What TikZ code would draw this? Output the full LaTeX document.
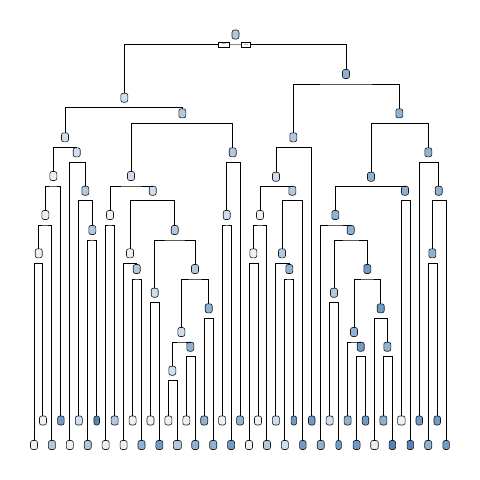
\documentclass[tikz,border=0pt]{standalone}
\usepackage{fontspec}
\usetikzlibrary{calc}
% fill shades, light to dark
\definecolor{s1}{HTML}{EBF1F7}
\definecolor{s2}{HTML}{CFDDEC}
\definecolor{s3}{HTML}{B0C8E0}
\definecolor{s4}{HTML}{8FB1D2}
\definecolor{s5}{HTML}{6F9BC6}
\definecolor{s6}{HTML}{5286B8}
% elbow connector: parent #1, left child #2, right child #3
\newcommand\splitpair[3]{%
  \draw[branch] (#2.north) |- ($(#1.center)+(0,10)$) -| (#3.north);}
\begin{document}
\begin{tikzpicture}[x=1pt,y=-1pt,
  box/.style={draw=black!90, line width=0.6pt, rounded corners=2.2pt,
    minimum width=7pt, minimum height=9pt, inner sep=0pt},
  branch/.style={line width=1pt, black},
  yn/.style={draw=black, line width=0.6pt, fill=white, inner sep=0pt,
    minimum height=5pt, font=\fontsize{2.5}{3}\selectfont}]
\useasboundingbox[fill=white] (0,0) rectangle (480,480);

% ---- internal nodes ----
\node[box, fill=s3] (root) at (235.5,34.5) {};
% left subtree
\node[box, fill=s2] (H) at (124.3,97.7) {};
\node[box, fill=s2] (D) at (65,137.3) {};
\node[box, fill=s1] (C) at (53.3,176) {};
\node[box, fill=s1] (B) at (45.3,215) {};
\node[box, fill=s1] (A) at (38.7,253.3) {};
\node[box, fill=s2] (E) at (76.7,152.3) {};
\node[box, fill=s3] (F) at (85.3,190.7) {};
\node[box, fill=s3] (G) at (92.3,230) {};
\node[box, fill=s3] (I) at (182.3,113.3) {};
\node[box, fill=s2] (J) at (131,176) {};
\node[box, fill=s1] (K) at (110,215) {};
\node[box, fill=s2] (L) at (152.7,190.7) {};
\node[box, fill=s1] (M) at (130,253.3) {};
\node[box, fill=s3] (N) at (136.7,269) {};
\node[box, fill=s3] (O) at (174.7,230) {};
\node[box, fill=s2] (P) at (154.7,292.7) {};
\node[box, fill=s3] (Q) at (195,269) {};
\node[box, fill=s2] (R) at (181.3,332) {};
\node[box, fill=s2] (S) at (172.3,370.7) {};
\node[box, fill=s4] (T) at (190.3,346.7) {};
\node[box, fill=s4] (U) at (208.7,308.3) {};
\node[box, fill=s3] (V) at (232.7,152.3) {};
\node[box, fill=s2] (W) at (226.7,215) {};
% right subtree
\node[box, fill=s4] (X) at (346,74) {};
\node[box, fill=s3] (Y) at (293.3,137.3) {};
\node[box, fill=s2] (Z) at (276,176.7) {};
\node[box, fill=s1] (Za) at (260,215) {};
\node[box, fill=s1] (Zb) at (253.3,253.3) {};
\node[box, fill=s3] (Zc) at (292.3,190.7) {};
\node[box, fill=s3] (Zd) at (282,253.3) {};
\node[box, fill=s4] (Ze) at (289.3,269) {};
\node[box, fill=s4] (AA) at (399.3,113.3) {};
\node[box, fill=s4] (AB) at (371,176.7) {};
\node[box, fill=s4] (AC) at (335.3,215) {};
\node[box, fill=s4] (AD) at (350.7,230) {};
\node[box, fill=s3] (AE) at (334,292.7) {};
\node[box, fill=s5] (AF) at (367.3,269) {};
\node[box, fill=s4] (AG) at (354,332) {};
\node[box, fill=s5] (AH) at (360.7,346.7) {};
\node[box, fill=s5] (AI) at (380.7,308.3) {};
\node[box, fill=s4] (AJ) at (387.3,346.7) {};
\node[box, fill=s4] (AK) at (405,190.7) {};
\node[box, fill=s4] (AL) at (428.3,152.3) {};
\node[box, fill=s4] (AM) at (438.7,190.7) {};
\node[box, fill=s4] (AN) at (432.3,253.3) {};

% ---- leaves: odd ones on the upper row, even ones on the lower row ----
\foreach \i/\c/\w in {0/s1/7,1/s1/7,2/s3/7,3/s5/6.5,4/s1/7,5/s2/7,6/s3/7,7/s6/5.5,
  8/s1/7,9/s3/7,10/s1/7,11/s1/7,12/s4/7,13/s1/7,14/s5/7,15/s1/7,16/s3/8,17/s1/7,
  18/s4/7,19/s4/7,20/s4/7,21/s1/7,22/s5/7,23/s4/7,24/s1/7,25/s1/7,26/s3/7,27/s2/7,
  28/s2/7,29/s5/5.5,30/s5/6.5,31/s5/6.5,32/s4/7,33/s2/7,34/s5/5.5,35/s4/7,36/s5/7,
  37/s5/6.5,38/s1/7.5,39/s4/7,40/s6/6.5,41/s1/7.5,42/s6/6.5,43/s5/6.5,44/s4/7,
  45/s5/6.5,46/s5/6.5}{
  \pgfmathsetmacro\xx{34+8.96*\i}
  \pgfmathsetmacro\yy{ifthenelse(mod(\i,2)==1,420.5,445)}
  \node[box, fill=\c, minimum width=\w pt] (l\i) at (\xx,\yy) {};
}

% ---- branches ----
\splitpair{root}{H}{X}
\splitpair{H}{D}{I}
\splitpair{D}{C}{E}
\splitpair{C}{B}{l3}
\splitpair{B}{A}{l2}
\splitpair{A}{l0}{l1}
\splitpair{E}{l4}{F}
\splitpair{F}{l5}{G}
\splitpair{G}{l6}{l7}
\splitpair{I}{J}{V}
\splitpair{J}{K}{L}
\splitpair{K}{l8}{l9}
\splitpair{L}{M}{O}
\splitpair{M}{l10}{N}
\splitpair{N}{l11}{l12}
\splitpair{O}{P}{Q}
\splitpair{P}{l13}{l14}
\splitpair{Q}{R}{U}
\splitpair{R}{S}{T}
\splitpair{S}{l15}{l16}
\splitpair{T}{l17}{l18}
\splitpair{U}{l19}{l20}
\splitpair{V}{W}{l23}
\splitpair{W}{l21}{l22}
\splitpair{X}{Y}{AA}
\splitpair{Y}{Z}{l31}
\splitpair{Z}{Za}{Zc}
\splitpair{Za}{Zb}{l26}
\splitpair{Zb}{l24}{l25}
\splitpair{Zc}{Zd}{l30}
\splitpair{Zd}{l27}{Ze}
\splitpair{Ze}{l28}{l29}
\splitpair{AA}{AB}{AL}
\splitpair{AB}{AC}{AK}
\splitpair{AC}{l32}{AD}
\splitpair{AD}{AE}{AF}
\splitpair{AE}{l33}{l34}
\splitpair{AF}{AG}{AI}
\splitpair{AG}{l35}{AH}
\splitpair{AH}{l36}{l37}
\splitpair{AI}{l38}{AJ}
\splitpair{AJ}{l39}{l40}
\splitpair{AK}{l41}{l42}
\splitpair{AL}{l43}{AM}
\splitpair{AM}{AN}{l46}
\splitpair{AN}{l44}{l45}

% ---- yes / no tags on the first split ----
\node[yn, minimum width=11pt] (yes) at (223.8,44.5) {yes};
\node[yn, minimum width=9.4pt] (no) at (246,44.5) {no};
\fill[white] (yes.east) rectangle ([yshift=-0.7pt]no.west);
\draw[black!45, line width=0.6pt] (yes.east) -- (no.west);
\end{tikzpicture}
\end{document}
